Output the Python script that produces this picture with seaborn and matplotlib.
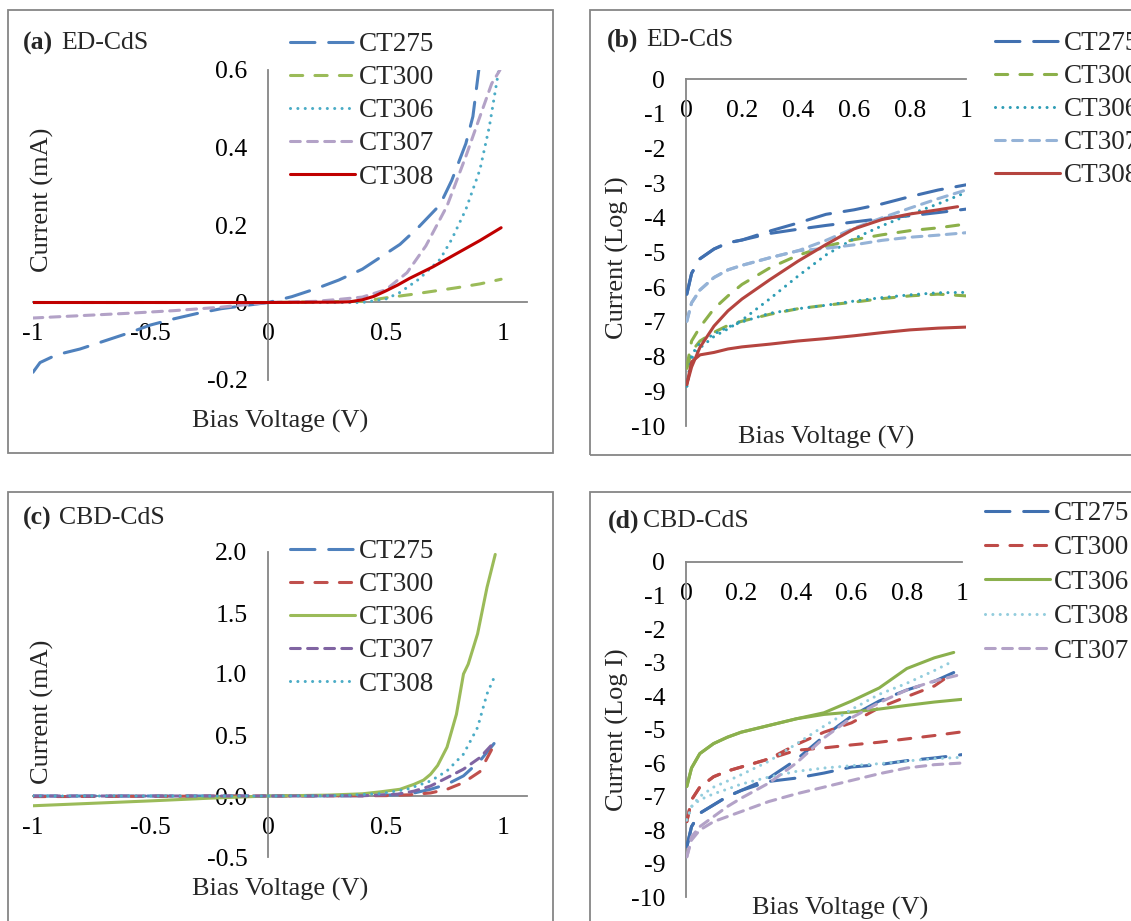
import numpy as np
import pandas as pd
import seaborn as sns
import matplotlib.pyplot as plt
from matplotlib.patches import Rectangle

# ---------------- data ----------------
# (a) ED-CdS, linear I-V (current in mA)
a_v275 = [-1, -0.97, -0.9, -0.8, -0.7, -0.6, -0.5, -0.4, -0.3, -0.2, -0.1, 0, 0.1, 0.2, 0.3, 0.4, 0.47, 0.56, 0.64, 0.73, 0.78, 0.84, 0.87, 0.895]
a_i275 = [-0.18, -0.155, -0.135, -0.12, -0.1, -0.08, -0.058, -0.042, -0.028, -0.016, -0.008, 0, 0.015, 0.035, 0.058, 0.086, 0.114, 0.15, 0.195, 0.252, 0.315, 0.41, 0.48, 0.6]
a_v300 = [-1, 0, 0.4, 0.5, 0.6, 0.7, 0.8, 0.9, 0.99]
a_i300 = [0, 0, 0.003, 0.012, 0.02, 0.029, 0.038, 0.048, 0.06]
a_v306 = [-1, 0, 0.4, 0.5, 0.56, 0.64, 0.73, 0.78, 0.84, 0.9, 0.94, 0.98]
a_i306 = [0, 0, 0.0, 0.009, 0.026, 0.06, 0.111, 0.163, 0.24, 0.343, 0.454, 0.6]
a_v307 = [-1, -0.8, -0.6, -0.4, -0.2, 0, 0.2, 0.3, 0.4, 0.5, 0.59, 0.67, 0.76, 0.84, 0.9, 0.95, 0.985]
a_i307 = [-0.04, -0.034, -0.028, -0.021, -0.012, 0, 0.003, 0.008, 0.014, 0.033, 0.077, 0.146, 0.249, 0.377, 0.48, 0.565, 0.6]
a_v308 = [-1, 0, 0.3, 0.35, 0.4, 0.45, 0.5, 0.55, 0.6, 0.7, 0.8, 0.9, 0.99]
a_i308 = [0, 0, 0.001, 0.002, 0.007, 0.016, 0.03, 0.045, 0.062, 0.092, 0.126, 0.16, 0.193]

# (c) CBD-CdS, linear I-V (current in mA)
c_v275 = [-1, 0, 0.4, 0.55, 0.62, 0.69, 0.76, 0.83, 0.9, 0.96]
c_i275 = [0, 0, 0.002, 0.01, 0.025, 0.055, 0.096, 0.165, 0.288, 0.43]
c_v300 = [-1, 0, 0.5, 0.6, 0.69, 0.76, 0.83, 0.9, 0.955]
c_i300 = [-0.005, 0, 0.003, 0.01, 0.025, 0.055, 0.11, 0.2, 0.4]
c_v306 = [-1, -0.75, -0.5, -0.25, 0, 0.25, 0.4, 0.48, 0.56, 0.62, 0.66, 0.69, 0.72, 0.76, 0.8, 0.83, 0.85, 0.89, 0.93, 0.965]
c_i306 = [-0.08, -0.06, -0.04, -0.018, 0, 0.007, 0.018, 0.035, 0.055, 0.096, 0.13, 0.178, 0.25, 0.4, 0.67, 1.0, 1.08, 1.33, 1.71, 1.98]
c_v307 = [-1, 0, 0.4, 0.55, 0.62, 0.69, 0.76, 0.83, 0.9, 0.965]
c_i307 = [0, 0, 0.002, 0.015, 0.04, 0.082, 0.15, 0.22, 0.315, 0.45]
c_v308 = [-1, 0, 0.3, 0.48, 0.59, 0.69, 0.76, 0.83, 0.89, 0.93, 0.96]
c_i308 = [0, 0, 0.003, 0.02, 0.055, 0.123, 0.206, 0.343, 0.562, 0.837, 0.97]

# log panels: forward (upper) and reverse (lower) branch per sample
v_log = [0.003, 0.02, 0.05, 0.1, 0.15, 0.2, 0.3, 0.4, 0.5, 0.6, 0.7, 0.8, 0.9, 1.0]
v_log_s = [0.003, 0.02, 0.05, 0.1, 0.15, 0.2, 0.3, 0.4, 0.5, 0.6, 0.7, 0.8, 0.9, 0.97]

# (b) ED-CdS, log I
b275_f = [-6.2, -5.6, -5.18, -4.9, -4.72, -4.64, -4.38, -4.15, -3.9, -3.77, -3.6, -3.39, -3.2, -3.05]
b275_r = [-6.2, -5.6, -5.18, -4.9, -4.72, -4.64, -4.45, -4.33, -4.22, -4.12, -4.02, -3.94, -3.85, -3.75]
b300_f = [-8.3, -7.55, -7.15, -6.62, -6.25, -5.92, -5.44, -5.08, -4.82, -4.63, -4.49, -4.37, -4.29, -4.18]
b300_r = [-8.34, -7.85, -7.55, -7.3, -7.1, -6.98, -6.78, -6.62, -6.52, -6.43, -6.33, -6.25, -6.2, -6.25]
b306_f = [-8.85, -8.05, -7.75, -7.42, -7.2, -6.95, -6.33, -5.68, -5.07, -4.6, -4.23, -3.9, -3.6, -3.27]
b306_r = [-8.85, -7.95, -7.6, -7.35, -7.15, -7.0, -6.75, -6.62, -6.52, -6.4, -6.3, -6.22, -6.16, -6.15]
b307_f = [-6.98, -6.45, -6.08, -5.72, -5.5, -5.37, -5.15, -4.95, -4.65, -4.3, -4.0, -3.72, -3.45, -3.2]
b307_r = [-6.98, -6.45, -6.08, -5.72, -5.5, -5.37, -5.15, -4.95, -4.88, -4.78, -4.65, -4.56, -4.5, -4.43]
b308_f = [-8.8, -8.3, -7.73, -7.12, -6.68, -6.34, -5.78, -5.25, -4.77, -4.32, -4.05, -3.89, -3.77, -3.68]
b308_r = [-8.8, -8.15, -7.95, -7.88, -7.78, -7.72, -7.64, -7.55, -7.48, -7.4, -7.31, -7.23, -7.18, -7.15]

# (d) CBD-CdS, log I
d275_f = [-8.5, -7.9, -7.5, -7.25, -7.0, -6.82, -6.45, -5.9, -5.2, -4.6, -4.15, -3.82, -3.56, -3.3]
d275_r = [-8.5, -7.9, -7.5, -7.25, -7.0, -6.82, -6.55, -6.45, -6.3, -6.12, -6.05, -5.93, -5.85, -5.75]
d300_f = [-7.75, -7.1, -6.72, -6.41, -6.24, -6.12, -5.88, -5.45, -5.08, -4.8, -4.35, -4.02, -3.7, -3.3]
d300_r = [-7.75, -7.1, -6.72, -6.41, -6.24, -6.12, -5.88, -5.62, -5.55, -5.46, -5.38, -5.28, -5.18, -5.07]
d306_f = [-6.7, -6.15, -5.72, -5.42, -5.23, -5.08, -4.88, -4.68, -4.5, -4.15, -3.76, -3.18, -2.86, -2.7]
d306_r = [-6.7, -6.15, -5.72, -5.42, -5.23, -5.08, -4.88, -4.68, -4.55, -4.48, -4.39, -4.28, -4.18, -4.1]
d308_f = [-7.7, -7.3, -7.0, -6.72, -6.54, -6.35, -5.95, -5.43, -4.9, -4.4, -3.95, -3.62, -3.24, -2.95]
d308_r = [-7.7, -7.3, -7.1, -6.92, -6.78, -6.63, -6.42, -6.25, -6.15, -6.08, -6.02, -5.94, -5.87, -5.83]
d307_f = [-8.8, -8.2, -7.9, -7.6, -7.3, -7.05, -6.6, -6.0, -5.25, -4.65, -4.2, -3.82, -3.55, -3.35]
d307_r = [-8.8, -8.3, -8.0, -7.75, -7.6, -7.45, -7.15, -6.92, -6.72, -6.52, -6.32, -6.15, -6.05, -6.0]

# ---------------- styling ----------------
sns.set_theme(style="white")
plt.rcParams['font.family'] = ['Liberation Serif', 'DejaVu Serif']

W, H = 1131, 921
GRAY = '#868686'
LW = 2.2
LONG = (0, (8, 4.5))
DASH = (0, (4, 4))
SHORT = (0, (3.2, 2.4))
DOT = (0, (0.01, 2.4))
SOLID = '-'
FS_TICK = 18.5
FS_LAB = 19
FS_LEG = 19.5
FS_TTL = 18.5


def rect(l, t, r, b):
    # pixel box -> figure fraction [left, bottom, width, height]
    return [l / W, 1 - b / H, (r - l) / W, (b - t) / H]


def draw(ax, x, y, color, style, label=None):
    sns.lineplot(x=x, y=y, ax=ax, color=color, linestyle=style, lw=LW,
                 sort=False, estimator=None, label=label, legend=False,
                 dash_capstyle='round', solid_capstyle='round')


def axis_style(ax):
    for s in ['top', 'right']:
        ax.spines[s].set_visible(False)
    for s in ['left', 'bottom']:
        ax.spines[s].set_color(GRAY)
        ax.spines[s].set_linewidth(1.3)
        ax.spines[s].set_zorder(1)
    ax.spines['left'].set_position(('data', 0))
    ax.spines['bottom'].set_position(('data', 0))
    ax.set_axisbelow(True)
    ax.tick_params(axis='both', direction='out', length=5, width=1.3, color=GRAY,
                   labelsize=FS_TICK, labelcolor='black')
    ax.tick_params(axis='x', pad=10)
    ax.tick_params(axis='y', pad=10)
    ax.patch.set_alpha(0)


def labels(ax, ylab, xc, yc, yx, yy):
    ax.set_xlabel('Bias Voltage (V)', fontsize=FS_LAB)
    ax.set_ylabel(ylab, fontsize=FS_LAB)
    ax.xaxis.set_label_coords(xc, yc)
    ax.xaxis.label.set_va('center')
    ax.yaxis.set_label_coords(yx, yy)
    ax.yaxis.label.set_va('center')


def legend(ax, x, y, spacing):
    ax.legend(loc='upper left', bbox_to_anchor=(x / W, 1 - y / H),
              bbox_transform=fig.transFigure, frameon=False, fontsize=FS_LEG,
              handlelength=2.4, handletextpad=0.15, borderpad=0, borderaxespad=0,
              labelspacing=spacing)


def title(x1, x2, y, tag, name):
    fig.text(x1 / W, 1 - y / H, tag, fontsize=FS_TTL, fontweight='bold', va='center')
    fig.text(x2 / W, 1 - y / H, name, fontsize=FS_TTL, va='center')


fig = plt.figure(figsize=(W / 100, H / 100), dpi=100)

# panel borders
for l, t, r, b in [(8, 10, 553, 453), (590, 10, 1140, 455), (8, 492, 553, 930), (590, 492, 1140, 930)]:
    fig.patches.append(Rectangle((l / W, 1 - b / H), (r - l) / W, (b - t) / H,
                                 transform=fig.transFigure, fill=False,
                                 edgecolor=GRAY, lw=1.3))

# ---- (a)
ax = fig.add_axes(rect(33, 70, 527, 380))
draw(ax, a_v275, a_i275, '#4F81BD', LONG, 'CT275')
draw(ax, a_v300, a_i300, '#9BBB59', DASH, 'CT300')
draw(ax, a_v306, a_i306, '#4BACC6', DOT, 'CT306')
draw(ax, a_v307, a_i307, '#B3A2C7', SHORT, 'CT307')
draw(ax, a_v308, a_i308, '#C00000', SOLID, 'CT308')
ax.set_xlim(-1, 1.1)
ax.set_ylim(-0.2, 0.6)
axis_style(ax)
ax.set_xticks([-1, -0.5, 0, 0.5, 1], ['-1', '-0.5', '0', '0.5', '1'])
ax.set_yticks([-0.2, 0, 0.2, 0.4, 0.6], ['-0.2', '0', '0.2', '0.4', '0.6'])
labels(ax, 'Current (mA)', 0.5, -0.135, 0.02, 0.58)
legend(ax, 290, 32, 0.3)
title(23, 61, 43, '(a)', 'ED-CdS')

# ---- (b)
ax = fig.add_axes(rect(686, 79, 966, 426))
b_series = [('CT275', b275_f, b275_r, '#4170B0', LONG, v_log),
            ('CT300', b300_f, b300_r, '#8CB04A', DASH, v_log),
            ('CT306', b306_f, b306_r, '#2E9DB5', DOT, v_log),
            ('CT307', b307_f, b307_r, '#95B3D7', SHORT, v_log),
            ('CT308', b308_f, b308_r, '#B5443F', SOLID, v_log_s)]
for name, yf, yr, col, ls, vx in b_series:
    draw(ax, vx, yf, col, ls, name)
    draw(ax, v_log, yr, col, ls)
ax.set_xlim(0, 1)
ax.set_ylim(-10, 0)
axis_style(ax)
ax.set_xticks([0, 0.2, 0.4, 0.6, 0.8, 1], ['0', '0.2', '0.4', '0.6', '0.8', '1'])
ax.set_yticks(range(-10, 1), [str(v) for v in range(-10, 1)])
labels(ax, 'Current (Log I)', 0.5, -0.032, -0.245, 0.484)
legend(ax, 995, 31, 0.3)
title(607, 646, 40, '(b)', 'ED-CdS')

# ---- (c)
ax = fig.add_axes(rect(33, 552, 527, 857))
draw(ax, c_v275, c_i275, '#4F81BD', LONG, 'CT275')
draw(ax, c_v300, c_i300, '#C0504D', DASH, 'CT300')
draw(ax, c_v306, c_i306, '#9BBB59', SOLID, 'CT306')
draw(ax, c_v307, c_i307, '#8064A2', SHORT, 'CT307')
draw(ax, c_v308, c_i308, '#4BACC6', DOT, 'CT308')
ax.set_xlim(-1, 1.1)
ax.set_ylim(-0.5, 2.0)
axis_style(ax)
ax.set_xticks([-1, -0.5, 0, 0.5, 1], ['-1', '-0.5', '0', '0.5', '1'])
ax.set_yticks([-0.5, 0, 0.5, 1.0, 1.5, 2.0], ['-0.5', '0.0', '0.5', '1.0', '1.5', '2.0'])
labels(ax, 'Current (mA)', 0.5, -0.105, 0.02, 0.475)
legend(ax, 290, 539, 0.3)
title(23, 59, 518, '(c)', 'CBD-CdS')

# ---- (d)
ax = fig.add_axes(rect(686, 562, 962, 897))
d_series = [('CT275', d275_f, d275_r, '#4070B0', LONG, v_log_s),
            ('CT300', d300_f, d300_r, '#BE4B48', DASH, v_log_s),
            ('CT306', d306_f, d306_r, '#8BB04D', SOLID, v_log_s),
            ('CT308', d308_f, d308_r, '#93CDDD', DOT, v_log_s),
            ('CT307', d307_f, d307_r, '#B3A2C7', SHORT, v_log)]
for name, yf, yr, col, ls, vx in d_series:
    draw(ax, vx, yf, col, ls, name)
    draw(ax, v_log, yr, col, ls)
ax.set_xlim(0, 1)
ax.set_ylim(-10, 0)
axis_style(ax)
ax.set_xticks([0, 0.2, 0.4, 0.6, 0.8, 1], ['0', '0.2', '0.4', '0.6', '0.8', '1'])
ax.set_yticks(range(-10, 1), [str(v) for v in range(-10, 1)])
labels(ax, 'Current (Log I)', 0.558, -0.033, -0.25, 0.5)
legend(ax, 985, 501, 0.35)
title(608, 643, 521, '(d)', 'CBD-CdS')

fig.savefig('out.png', dpi=100)
